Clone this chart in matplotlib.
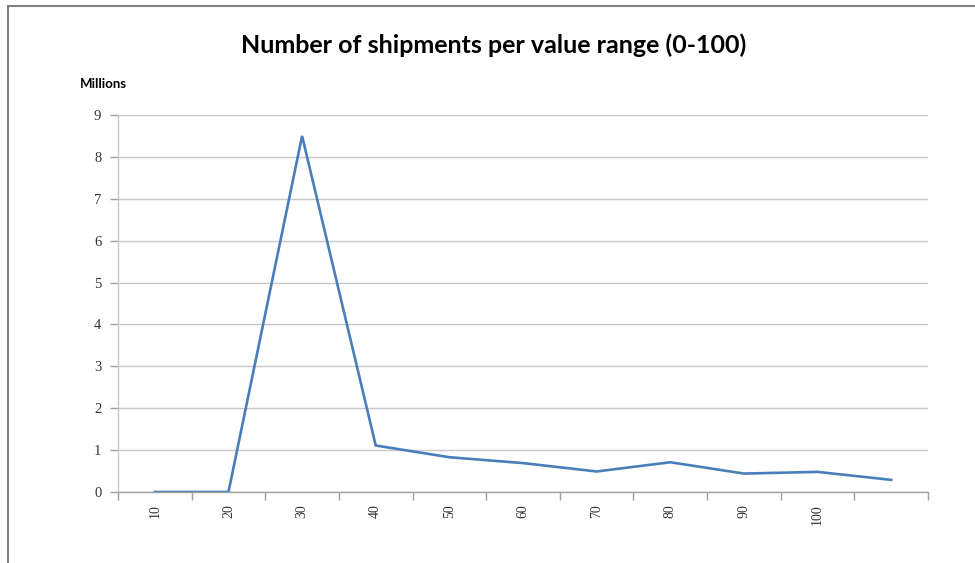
import matplotlib.pyplot as plt
from matplotlib.patches import Rectangle

categories = ['10', '20', '30', '40', '50', '60', '70', '80', '90', '100', '']
shipments = [0.0, 0.0, 8.5, 1.11, 0.83, 0.69, 0.49, 0.71, 0.44, 0.48, 0.29]
y_ticks = [0, 1, 2, 3, 4, 5, 6, 7, 8, 9]

grid_col = '#c8c8c8'

fig = plt.figure(figsize=(9.75, 5.63), dpi=100)
ax = fig.add_axes([118/975, 1-492/563, (928-118)/975, (492-115)/563])

x = list(range(len(categories)))
ax.plot(x, shipments, color='#4a7ebb', linewidth=1.9, solid_joinstyle='miter')

ax.set_xlim(-0.5, len(categories) - 0.5)
ax.set_ylim(0, 9)
ax.set_yticks(y_ticks)
ax.set_yticklabels([str(v) for v in y_ticks], family='Liberation Serif', fontsize=10.5, color='#333333')
ax.set_xticks(x)
ax.set_xticklabels(categories, rotation=90, family='Liberation Serif', fontsize=10, color='#333333')
ax.tick_params(axis='x', which='major', length=0, pad=9)
ax.set_xticks([i - 0.5 for i in range(len(categories) + 1)], minor=True)
ax.tick_params(axis='x', which='minor', length=6, direction='out', color='#a0a0a0', width=1)
ax.tick_params(axis='y', length=6, color='#a0a0a0', width=1, pad=6)

ax.grid(axis='y', color=grid_col, linewidth=1)
ax.set_axisbelow(True)
for s in ['top', 'right']:
    ax.spines[s].set_visible(False)
ax.spines['left'].set_color(grid_col)
ax.spines['bottom'].set_color('#a0a0a0')
ax.spines['left'].set_linewidth(1)
ax.spines['bottom'].set_linewidth(1)

fig.text(494/975, 1-45/563, 'Number of shipments per value range (0-100)', ha='center', va='center',
         family='Lato', fontweight='bold', fontsize=18, color='black')
fig.text(80/975, 1-84/563, 'Millions', ha='left', va='center', family='Lato',
         fontweight='bold', fontsize=9.5, color='black')

fig.patches.append(Rectangle((7.5/975, -0.1), 1.2, 0.1 + 1 - 6.5/563, transform=fig.transFigure,
                             fill=False, edgecolor='#808080', linewidth=1.5))

fig.savefig('out.png', dpi=100)
